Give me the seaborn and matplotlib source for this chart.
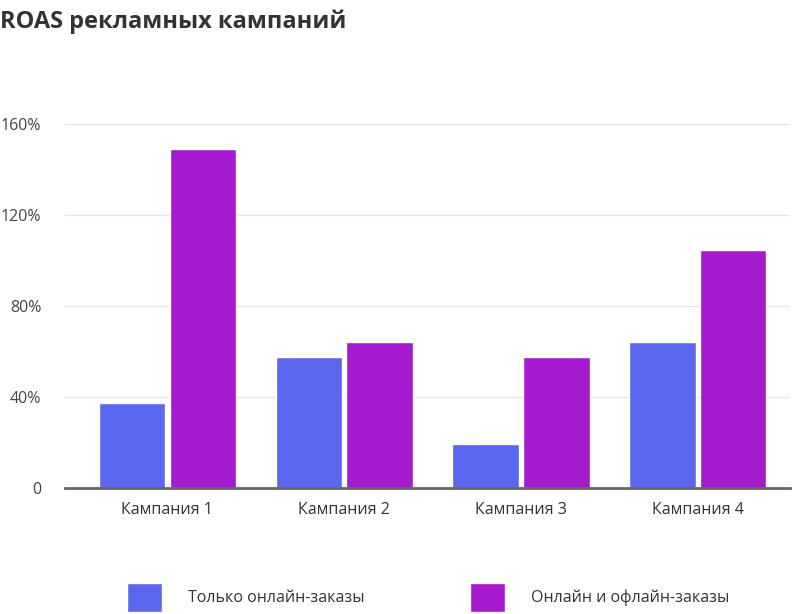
import pandas as pd
import seaborn as sns
import matplotlib.pyplot as plt

campaigns = ['Кампания 1', 'Кампания 2', 'Кампания 3', 'Кампания 4']
online_only = [37.4, 57.6, 19.3, 64.2]
online_offline = [149.0, 64.2, 57.6, 104.6]
series_names = ['Только онлайн-заказы', 'Онлайн и офлайн-заказы']
colors = ['#5B67EE', '#A61ACF']

df = pd.DataFrame({
    'campaign': campaigns * 2,
    'roas': online_only + online_offline,
    'series': [series_names[0]] * 4 + [series_names[1]] * 4,
})

sns.set_style('white')
plt.rcParams['font.family'] = ['Open Sans', 'DejaVu Sans']

fig = plt.figure(figsize=(8, 6.14), dpi=100)
ax = fig.add_axes([0.08125, 0.2052, 0.90625, 0.5928])

sns.barplot(data=df, x='campaign', y='roas', hue='series', palette=colors,
            width=0.8, gap=0.06, saturation=1, ax=ax)

ax.set_xlim(-0.579, 3.521)
ax.set_ylim(0, 160)
ax.set_yticks([0, 40, 80, 120, 160])
ax.set_yticklabels(['0', '40%', '80%', '120%', '160%'])
ax.yaxis.grid(True, color='#e6e6e6', linewidth=1)
ax.set_axisbelow(True)
for s in ['top', 'right', 'left']:
    ax.spines[s].set_visible(False)
ax.spines['bottom'].set_color('#666666')
ax.spines['bottom'].set_linewidth(2)
ax.tick_params(axis='y', length=0, pad=17, labelsize=11.5, labelcolor='#444444')
ax.tick_params(axis='x', length=0, pad=10, labelsize=11.5, labelcolor='#333333')
for lbl in ax.get_yticklabels():
    lbl.set_horizontalalignment('right')
ax.set_xlabel('')
ax.set_ylabel('')

sns.move_legend(ax, 'center', bbox_to_anchor=(0.535, 0.027), bbox_transform=fig.transFigure,
                ncol=2, frameon=False, title=None, fontsize=11.5,
                handlelength=2.2, handleheight=2.4, handletextpad=1.6,
                columnspacing=6.6)
for t in ax.get_legend().get_texts():
    t.set_color('#333333')

fig.text(0.0, 0.985, 'ROAS рекламных кампаний', ha='left', va='top',
         fontsize=17, fontweight='bold', color='#333333')

fig.savefig('out.png', dpi=100)
